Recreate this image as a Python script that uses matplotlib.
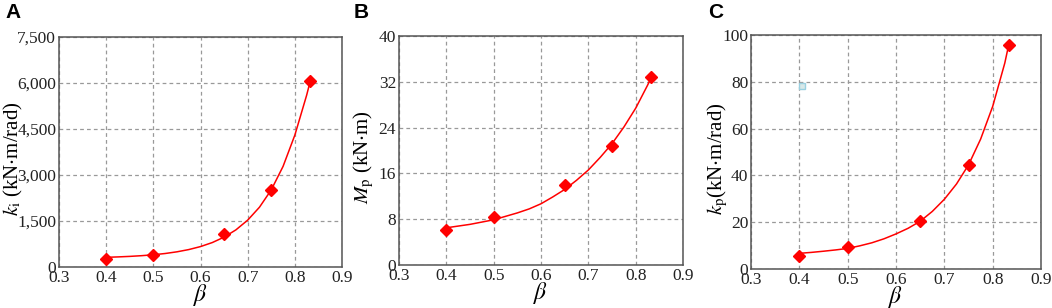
import matplotlib
matplotlib.use('Agg')
import matplotlib.pyplot as plt
from matplotlib.ticker import FuncFormatter

plt.rcParams['font.family'] = ['Liberation Serif', 'DejaVu Serif']
plt.rcParams['mathtext.fontset'] = 'stix'

# measured points
beta = [0.4, 0.5, 0.65, 0.75, 0.833]
ki = [270, 400, 1090, 2500, 6080]
mp = [6.1, 8.3, 13.9, 20.8, 32.8]
kp = [5.5, 9.5, 20.6, 44.3, 95.7]

# fitted curves
beta_fit = [0.4, 0.425, 0.45, 0.475, 0.5, 0.525, 0.55, 0.575, 0.6, 0.625,
            0.65, 0.675, 0.7, 0.725, 0.75, 0.775, 0.8, 0.825, 0.833]
ki_fit = [317, 330, 347, 370, 400, 441, 496, 569, 667, 798,
          975, 1211, 1528, 1950, 2515, 3280, 4300, 5600, 6080]
mp_fit = [6.5, 6.8, 7.1, 7.5, 7.9, 8.5, 9.1, 9.8, 10.7, 11.9,
          13.2, 14.8, 16.6, 18.8, 21.2, 24.1, 27.4, 31.4, 32.8]
kp_fit = [6.7, 7.1, 7.6, 8.15, 8.8, 9.9, 11.2, 12.9, 15.0, 17.4,
          20.4, 24.6, 29.8, 36.3, 44.5, 55.5, 69.5, 88.0, 95.7]

fig = plt.figure(figsize=(10.52, 3.08), dpi=100)

panels = [
    ([0.0561, 0.133, 0.269, 0.747], ki, ki_fit, 7500, 1500,
     r'$k_{\mathrm{i}}$ (kN$\cdot$m/rad)', 'A', 0.005, -0.12),
    ([0.3793, 0.1396, 0.270, 0.7435], mp, mp_fit, 40, 8,
     r'$M_{\mathrm{p}}$ (kN$\cdot$m)', 'B', 0.336, -0.081),
    ([0.7139, 0.1266, 0.2757, 0.76], kp, kp_fit, 100, 20,
     r'$k_{\mathrm{p}}$(kN$\cdot$m/rad)', 'C', 0.673, -0.072),
]

for rect, pts, fit, ymax, ystep, ylab, letter, lx, ylx in panels:
    ax = fig.add_axes(rect)
    ax.plot(beta_fit, fit, color='red', lw=1.1, zorder=3)
    ax.plot(beta, pts, 'D', color='red', ms=6.5, zorder=4)
    ax.set_xlim(0.3, 0.9)
    ax.set_ylim(0, ymax)
    ax.set_xticks([0.3, 0.4, 0.5, 0.6, 0.7, 0.8, 0.9])
    ax.set_yticks(range(0, ymax + 1, ystep))
    if ymax > 1000:
        ax.yaxis.set_major_formatter(FuncFormatter(lambda v, p: f'{int(v):,}'))
    ax.grid(True, ls=(0, (3, 2.5)), color='#999999', lw=0.9)
    ax.tick_params(length=0, labelsize=12.5, pad=2, colors='#222222')
    for s in ax.spines.values():
        s.set_color('#555555')
        s.set_linewidth(1.1)
    ax.set_xlabel(r'$\beta$', fontsize=17, labelpad=-3)
    ax.set_ylabel(ylab, fontsize=15)
    ax.yaxis.set_label_coords(ylx, 0.47)
    fig.text(lx, 0.942, letter, fontsize=15, fontweight='bold',
             family='Liberation Sans')
    if letter == 'C':
        ax.plot([0.405], [78], 's', ms=5, mfc='#d8e8e8', mec='#9ad0e0', mew=1)

fig.savefig('out.png', dpi=100)
